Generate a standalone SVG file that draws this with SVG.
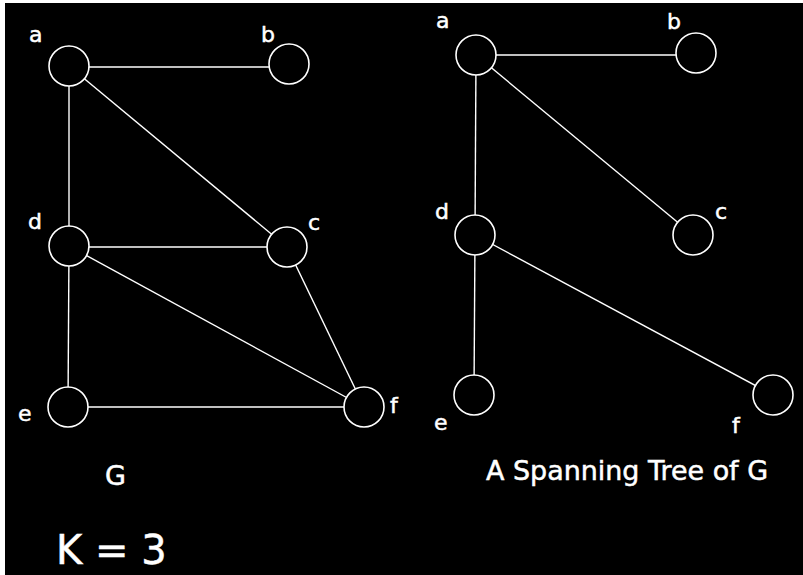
<svg xmlns="http://www.w3.org/2000/svg" width="803" height="575" viewBox="0 0 803 575">
<style>
.edge{stroke:#fff;stroke-width:1.4;fill:none}
.node circle{fill:#000;stroke:#fff;stroke-width:1.6}
text{fill:#fff;stroke:#fff;stroke-width:0.5;font-family:"DejaVu Sans","Liberation Sans",sans-serif}
.lbl{font-size:22px}
</style>
<rect x="0" y="0" width="803" height="575" fill="#fff"/>
<rect x="5" y="3" width="798" height="572" fill="#000"/>
<g id="connectors">
<line class="edge" x1="69" y1="67" x2="289" y2="67"/>
<line class="edge" x1="69" y1="66" x2="69" y2="246"/>
<line class="edge" x1="69" y1="66" x2="287" y2="247"/>
<line class="edge" x1="69" y1="247" x2="287" y2="247"/>
<line class="edge" x1="69" y1="246" x2="364" y2="407"/>
<line class="edge" x1="287" y1="247" x2="364" y2="407"/>
<line class="edge" x1="69" y1="246" x2="68" y2="407"/>
<line class="edge" x1="68" y1="407" x2="364" y2="407"/>
<line class="edge" x1="476" y1="55" x2="696" y2="55"/>
<line class="edge" x1="476" y1="55" x2="475" y2="235"/>
<line class="edge" x1="476" y1="55" x2="693" y2="235"/>
<line class="edge" x1="475" y1="235" x2="773" y2="395"/>
<line class="edge" x1="475" y1="235" x2="474" y2="395"/>
</g>
<g id="G-a" class="node"><circle cx="69" cy="66" r="20"/><text class="lbl" x="29" y="42">a</text></g>
<g id="G-b" class="node"><circle cx="289" cy="64" r="20"/><text class="lbl" x="261" y="42">b</text></g>
<g id="G-c" class="node"><circle cx="287" cy="247" r="20"/><text class="lbl" x="308" y="230">c</text></g>
<g id="G-d" class="node"><circle cx="69" cy="246" r="20"/><text class="lbl" x="28" y="229">d</text></g>
<g id="G-e" class="node"><circle cx="68" cy="407" r="20"/><text class="lbl" x="18" y="421">e</text></g>
<g id="G-f" class="node"><circle cx="364" cy="407" r="20"/><text class="lbl" x="390" y="413">f</text></g>
<g id="T-a" class="node"><circle cx="476" cy="55" r="20"/><text class="lbl" x="436" y="28">a</text></g>
<g id="T-b" class="node"><circle cx="696" cy="53" r="20"/><text class="lbl" x="667" y="29">b</text></g>
<g id="T-c" class="node"><circle cx="693" cy="235" r="20"/><text class="lbl" x="715" y="219">c</text></g>
<g id="T-d" class="node"><circle cx="475" cy="235" r="20"/><text class="lbl" x="435" y="219">d</text></g>
<g id="T-e" class="node"><circle cx="474" cy="395" r="20"/><text class="lbl" x="434" y="430">e</text></g>
<g id="T-f" class="node"><circle cx="773" cy="395" r="20"/><text class="lbl" x="732" y="433">f</text></g>
<g id="captions">
<text x="105" y="485" font-size="27">G</text>
<text x="486" y="480" font-size="26" textLength="282" lengthAdjust="spacingAndGlyphs">A Spanning Tree of G</text>
<text x="56" y="564" font-size="40">K = 3</text>
</g>
</svg>
